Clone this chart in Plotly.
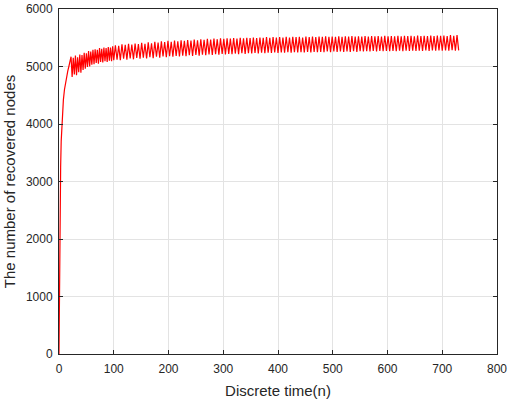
import plotly.graph_objects as go

# Early rise of recovered nodes (time step, value)
rise_n = [0, 1, 2, 3, 4, 5, 6, 8, 10, 12, 14, 16, 18, 20]
rise_y = [0, 1600, 2600, 3250, 3700, 3950, 4150, 4420, 4600, 4730, 4830, 4920, 5000, 5080]

# Dense oscillation, time steps 22..100 every 2 steps
early_osc_start, early_osc_step = 22, 2
early_osc_y = [5170, 4820, 5150, 4860, 5190, 4850, 5160, 4900, 5210, 4890,
               5200, 4940, 5240, 4960, 5230, 4990, 5270, 5000, 5260, 5030,
               5290, 5040, 5300, 5060, 5290, 5050, 5320, 5080, 5310, 5070,
               5330, 5090, 5320, 5080, 5340, 5100, 5330, 5090, 5350, 5110]

# Regular oscillation, peaks at n = 103, 109, ..., 727 and troughs at n = 106, 112, ..., 730
osc_start, osc_half_period = 103, 3
peaks = [5370, 5360, 5385, 5375, 5395, 5380, 5400, 5390, 5410, 5395,
         5420, 5405, 5430, 5415, 5440, 5425, 5445, 5430, 5450, 5440,
         5455, 5445, 5460, 5450, 5470, 5455, 5475, 5465, 5480, 5470,
         5485, 5475, 5490, 5480, 5490, 5485, 5495, 5485, 5500, 5490,
         5500, 5495, 5505, 5495, 5505, 5500, 5510, 5500, 5510, 5505,
         5510, 5505, 5515, 5505, 5515, 5510, 5515, 5505, 5520, 5510,
         5520, 5510, 5520, 5515, 5525, 5515, 5520, 5515, 5525, 5515,
         5525, 5520, 5530, 5520, 5525, 5520, 5530, 5520, 5530, 5525,
         5530, 5520, 5535, 5525, 5530, 5525, 5535, 5525, 5535, 5530,
         5535, 5525, 5540, 5530, 5535, 5530, 5540, 5530, 5540, 5535,
         5540, 5530, 5545, 5535, 5545]
troughs = [5120, 5110, 5135, 5120, 5140, 5125, 5150, 5135, 5155, 5140,
           5160, 5145, 5170, 5155, 5175, 5160, 5180, 5170, 5185, 5175,
           5190, 5180, 5195, 5185, 5200, 5190, 5205, 5195, 5210, 5200,
           5215, 5205, 5220, 5210, 5220, 5215, 5225, 5215, 5230, 5220,
           5230, 5225, 5235, 5225, 5240, 5230, 5240, 5235, 5245, 5235,
           5245, 5240, 5250, 5240, 5250, 5245, 5250, 5245, 5255, 5245,
           5255, 5250, 5255, 5250, 5260, 5250, 5260, 5255, 5260, 5255,
           5260, 5255, 5265, 5255, 5265, 5260, 5265, 5260, 5270, 5260,
           5270, 5265, 5270, 5265, 5270, 5265, 5275, 5265, 5275, 5270,
           5275, 5270, 5275, 5270, 5280, 5270, 5280, 5275, 5280, 5275,
           5280, 5275, 5285, 5275, 5280]

x_ticks = [0, 100, 200, 300, 400, 500, 600, 700, 800]
y_ticks = [0, 1000, 2000, 3000, 4000, 5000, 6000]

# assemble series
n_vals = list(rise_n)
y_vals = list(rise_y)
for i, v in enumerate(early_osc_y):
    n_vals.append(early_osc_start + early_osc_step * i)
    y_vals.append(v)
for i, (p, t) in enumerate(zip(peaks, troughs)):
    n_vals.append(osc_start + 2 * osc_half_period * i)
    y_vals.append(p)
    n_vals.append(osc_start + 2 * osc_half_period * i + osc_half_period)
    y_vals.append(t)

FONT = "Liberation Sans, Arial, sans-serif"

fig = go.Figure()
fig.add_trace(go.Scatter(x=n_vals, y=y_vals, mode="lines",
                         line=dict(color="#ff0000", width=1.2), showlegend=False))

axis_common = dict(showline=True, linecolor="#262626", linewidth=1, mirror="ticks",
                   ticks="inside", ticklen=4, tickcolor="#262626",
                   showgrid=True, gridcolor="#e3e3e3", gridwidth=1, zeroline=False,
                   automargin=False,
                   tickfont=dict(family=FONT, size=12, color="#262626"))

fig.update_layout(
    width=512, height=399,
    margin=dict(l=59, r=15, t=9, b=45),
    paper_bgcolor="white", plot_bgcolor="white",
    xaxis=dict(range=[0, 800], tickvals=x_ticks, ticklabelstandoff=4,
               title=dict(text="Discrete time(n)", standoff=10,
                          font=dict(family=FONT, size=15, color="#262626")),
               **axis_common),
    yaxis=dict(range=[0, 6000], tickvals=y_ticks, ticklabelstandoff=3,
               title=dict(text="The number of recovered nodes", standoff=6,
                          font=dict(family=FONT, size=15, color="#262626")),
               **axis_common),
)

fig.write_html("out.html", config={"displayModeBar": False},
               post_script="document.body.style.margin='0';")
